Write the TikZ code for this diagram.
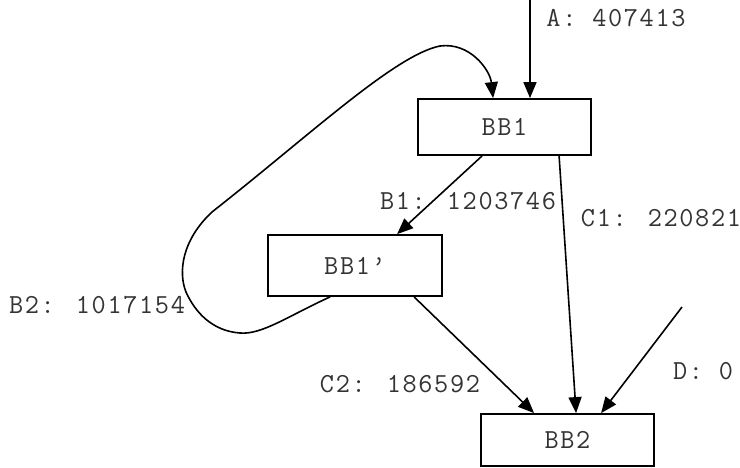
\documentclass[tikz,border=0pt]{standalone}
\usepackage{fontspec}
\newfontfamily\cour[LetterSpace=6]{Latin Modern Mono}
\usetikzlibrary{arrows.meta,calc}
\begin{document}
\begin{tikzpicture}[x=1pt,y=-1pt,
  every node/.style={font=\cour\fontsize{27.5}{30}\selectfont, text=black!80},
  bbox/.style={draw=black, line width=1.8pt, minimum width=173pt, inner sep=0pt},
  edge/.style={draw=black, line width=1.6pt, -{Triangle[length=16pt,width=13pt]}},
  lbl/.style={anchor=base}]
\useasboundingbox (0,0) rectangle (740,467);
\node[bbox, minimum height=56pt] (BB1) at (504.5,127) {BB1};
\node[bbox, minimum width=174pt, minimum height=61pt] (BB1p) at (355,265.5) {BB1’};
\node[bbox, minimum height=52pt] (BB2) at (567.5,440) {BB2};
\coordinate (a0) at (530,0);
\coordinate (d0) at (682,307);
% connectors
\draw[edge] (a0) -- (a0 |- BB1.north);
\draw[edge] ($(BB1.south west)+(65,0)$) -- ($(BB1p.north west)+(130,0)$);
\draw[edge] ($(BB1.south west)+(142,0)$) -- ($(BB2.north west)+(96,0)$);
\draw[edge] ($(BB1p.south west)+(147,0)$) -- ($(BB2.north west)+(54,0)$);
\draw[edge] (d0) -- ($(BB2.north west)+(121,0)$);
\draw[edge] ($(BB1p.south west)+(63,0)$)
  .. controls (290,315) and (262,335) .. (240,333)
  .. controls (212,331) and (195,312) .. (186,292)
  .. controls (178,272) and (182,240) .. (212,212)
  .. controls (310,135) and (395,55) .. (440,46)
  .. controls (470,42) and (490,70) .. ($(BB1.north west)+(76,0)$);
% labels
\node[lbl] (la) at (616,26) {A: 407413};
\node[lbl] (lb1) at (468,209) {B1: 1203746};
\node[lbl] (lc1) at (661,226) {C1: 220821};
\node[lbl] (lb2) at (97,313) {B2: 1017154};
\node[lbl] (lc2) at (400,392) {C2: 186592};
\node[lbl] (ld) at (703,379) {D: 0};
\end{tikzpicture}
\end{document}
